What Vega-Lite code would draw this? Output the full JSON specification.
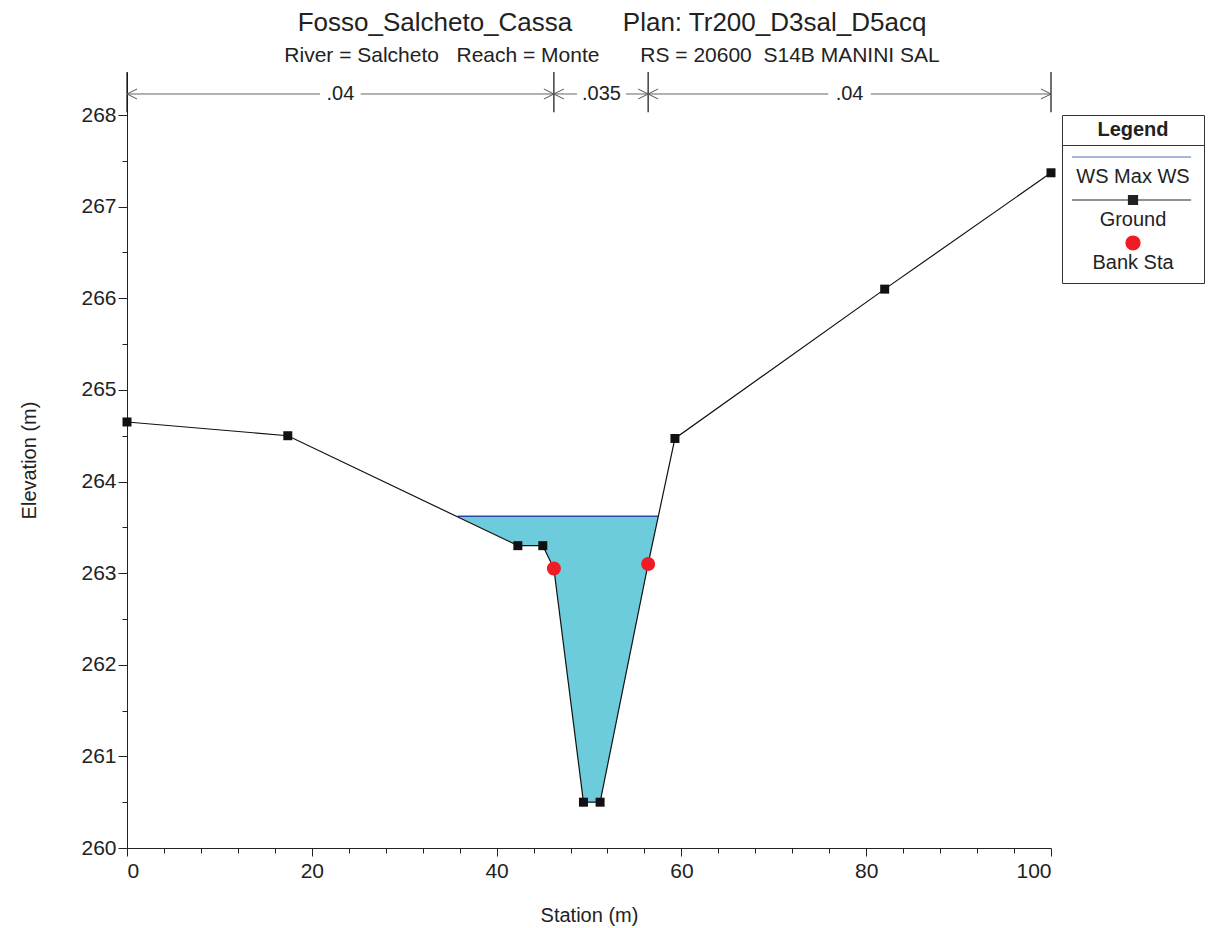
{
  "$schema": "https://vega.github.io/schema/vega-lite/v6.json",
  "width": 924,
  "height": 776,
  "autosize": {"type": "none"},
  "padding": {"left": 127, "top": 72, "right": 163, "bottom": 80},
  "background": "white",
  "config": {
    "view": {"stroke": null},
    "font": "Liberation Sans",
    "axis": {"grid": false, "labelFont": "Liberation Sans", "titleFont": "Liberation Sans", "domainColor": "#222", "tickColor": "#222", "labelColor": "#222", "titleColor": "#222", "titleFontWeight": "normal"},
    "legend": {"labelFont": "Liberation Sans", "titleFont": "Liberation Sans"}
  },
  "title": {
    "text": "Fosso_Salcheto_Cassa\u00a0\u00a0\u00a0\u00a0\u00a0\u00a0\u00a0Plan: Tr200_D3sal_D5acq",
    "subtitle": "River = Salcheto\u00a0\u00a0\u00a0Reach = Monte\u00a0\u00a0\u00a0\u00a0\u00a0\u00a0\u00a0RS = 20600\u00a0\u00a0S14B MANINI SAL",
    "anchor": "middle",
    "frame": "group",
    "dx": 23,
    "fontSize": 26,
    "fontWeight": "normal",
    "subtitleFontSize": 21,
    "color": "#222",
    "subtitleColor": "#222",
    "font": "Liberation Sans",
    "subtitleFont": "Liberation Sans",
    "offset": 5,
    "subtitlePadding": 9
  },
  "datasets": {
    "ground": [
      {"station": 0, "elev": 264.65},
      {"station": 17.4, "elev": 264.5},
      {"station": 42.3, "elev": 263.3},
      {"station": 45.0, "elev": 263.3},
      {"station": 46.2, "elev": 263.05},
      {"station": 49.4, "elev": 260.5},
      {"station": 51.2, "elev": 260.5},
      {"station": 56.4, "elev": 263.1},
      {"station": 59.3, "elev": 264.47},
      {"station": 82.0, "elev": 266.1},
      {"station": 100, "elev": 267.37}
    ],
    "squares": [
      {"station": 0, "elev": 264.65},
      {"station": 17.4, "elev": 264.5},
      {"station": 42.3, "elev": 263.3},
      {"station": 45.0, "elev": 263.3},
      {"station": 49.4, "elev": 260.5},
      {"station": 51.2, "elev": 260.5},
      {"station": 59.3, "elev": 264.47},
      {"station": 82.0, "elev": 266.1},
      {"station": 100, "elev": 267.37}
    ],
    "bank": [
      {"station": 46.2, "elev": 263.05},
      {"station": 56.4, "elev": 263.1}
    ],
    "water": [
      {"station": 35.8, "elev": 263.62, "ws": 263.62},
      {"station": 42.3, "elev": 263.3, "ws": 263.62},
      {"station": 45.0, "elev": 263.3, "ws": 263.62},
      {"station": 46.2, "elev": 263.05, "ws": 263.62},
      {"station": 49.4, "elev": 260.5, "ws": 263.62},
      {"station": 51.2, "elev": 260.5, "ws": 263.62},
      {"station": 56.4, "elev": 263.1, "ws": 263.62},
      {"station": 57.5, "elev": 263.62, "ws": 263.62}
    ],
    "wsline": [
      {"station": 35.8, "elev": 263.62},
      {"station": 57.5, "elev": 263.62}
    ],
    "nvert": [
      {"station": 0},
      {"station": 46.2},
      {"station": 56.4},
      {"station": 100}
    ],
    "nseg": [
      {"s0": 0, "s1": 20.9},
      {"s0": 25.3, "s1": 46.2},
      {"s0": 46.2, "s1": 48.7},
      {"s0": 54.0, "s1": 56.4},
      {"s0": 56.4, "s1": 75.9},
      {"s0": 80.5, "s1": 100}
    ],
    "arrowL": [
      {"station": 0},
      {"station": 46.2},
      {"station": 56.4}
    ],
    "arrowR": [
      {"station": 46.2},
      {"station": 56.4},
      {"station": 100}
    ],
    "nlab": [
      {"station": 23.1, "n": ".04"},
      {"station": 51.35, "n": ".035"},
      {"station": 78.2, "n": ".04"}
    ],
    "leg": [
      {"series": "WS Max WS", "station": null, "elev": null},
      {"series": "Ground", "station": null, "elev": null},
      {"series": "Bank Sta", "station": null, "elev": null}
    ],
    "hdr": [
      {"hdr": "Legend", "station": null, "elev": null}
    ]
  },
  "layer": [
    {
      "data": {"name": "water"},
      "mark": {"type": "area", "color": "#6dccdc", "opacity": 1},
      "encoding": {
        "x": {"field": "station", "type": "quantitative", "scale": {"domain": [0, 100], "nice": false, "zero": false}, "axis": null},
        "y": {"field": "elev", "type": "quantitative", "scale": {"domain": [260, 268.47], "nice": false, "zero": false}, "axis": null},
        "y2": {"field": "ws"}
      }
    },
    {
      "data": {"name": "wsline"},
      "mark": {"type": "line", "color": "#2a48a4", "strokeWidth": 1.5},
      "encoding": {
        "x": {"field": "station", "type": "quantitative", "axis": null},
        "y": {"field": "elev", "type": "quantitative", "axis": null}
      }
    },
    {
      "data": {"name": "ground"},
      "mark": {"type": "line", "color": "#111", "strokeWidth": 1.2},
      "encoding": {
        "x": {"field": "station", "type": "quantitative",
          "axis": {"orient": "bottom", "values": [0, 20, 40, 60, 80, 100], "format": "d", "tickSize": 8, "labelFontSize": 21, "labelPadding": 4, "title": "Station (m)", "titleFontSize": 20, "titlePadding": 24}},
        "y": {"field": "elev", "type": "quantitative",
          "axis": {"orient": "left", "values": [260, 261, 262, 263, 264, 265, 266, 267, 268], "format": "d", "tickSize": 9, "labelFontSize": 21, "labelPadding": 2, "title": "Elevation (m)", "titleFontSize": 20, "titlePadding": 41}}
      }
    },
    {
      "data": {"name": "squares"},
      "mark": {"type": "point", "shape": "square", "filled": true, "color": "#111", "size": 81, "opacity": 1},
      "encoding": {
        "x": {"field": "station", "type": "quantitative",
          "axis": {"orient": "bottom", "values": [4, 8, 12, 16, 24, 28, 32, 36, 44, 48, 52, 56, 64, 68, 72, 76, 84, 88, 92, 96], "tickSize": 5, "labels": false, "domain": false, "title": null}},
        "y": {"field": "elev", "type": "quantitative",
          "axis": {"orient": "left", "values": [260.5, 261.5, 262.5, 263.5, 264.5, 265.5, 266.5, 267.5], "tickSize": 5, "labels": false, "domain": false, "title": null}}
      }
    },
    {
      "data": {"name": "bank"},
      "mark": {"type": "point", "shape": "circle", "filled": true, "color": "#ee1c25", "size": 196, "opacity": 1},
      "encoding": {
        "x": {"field": "station", "type": "quantitative", "axis": null},
        "y": {"field": "elev", "type": "quantitative", "axis": null}
      }
    },
    {
      "data": {"name": "nvert"},
      "mark": {"type": "rule", "color": "#111", "strokeWidth": 1.2},
      "encoding": {
        "x": {"field": "station", "type": "quantitative", "axis": null},
        "y": {"datum": 268.03, "type": "quantitative", "axis": null},
        "y2": {"datum": 268.47}
      }
    },
    {
      "data": {"name": "nseg"},
      "mark": {"type": "rule", "color": "#666", "strokeWidth": 1},
      "encoding": {
        "x": {"field": "s0", "type": "quantitative", "axis": null},
        "x2": {"field": "s1"},
        "y": {"datum": 268.23, "type": "quantitative", "axis": null}
      }
    },
    {
      "data": {"name": "arrowL"},
      "mark": {"type": "point", "shape": "M10,-5L0,0L10,5", "size": 4, "filled": false, "color": "#555", "strokeWidth": 1, "opacity": 1},
      "encoding": {
        "x": {"field": "station", "type": "quantitative", "axis": null},
        "y": {"datum": 268.23, "type": "quantitative", "axis": null}
      }
    },
    {
      "data": {"name": "arrowR"},
      "mark": {"type": "point", "shape": "M-10,-5L0,0L-10,5", "size": 4, "filled": false, "color": "#555", "strokeWidth": 1, "opacity": 1},
      "encoding": {
        "x": {"field": "station", "type": "quantitative", "axis": null},
        "y": {"datum": 268.23, "type": "quantitative", "axis": null}
      }
    },
    {
      "data": {"name": "nlab"},
      "mark": {"type": "text", "fontSize": 20, "color": "#222", "baseline": "middle", "align": "center", "font": "Liberation Sans"},
      "encoding": {
        "x": {"field": "station", "type": "quantitative", "axis": null},
        "y": {"datum": 268.23, "type": "quantitative", "axis": null},
        "text": {"field": "n"}
      }
    },
    {
      "data": {"name": "leg"},
      "mark": {"type": "point", "filled": true, "strokeWidth": 1.2, "size": 2007},
      "encoding": {
        "x": {"field": "station", "type": "quantitative", "axis": null},
        "y": {"field": "elev", "type": "quantitative", "axis": null},
        "fill": {"field": "series", "type": "nominal",
          "scale": {"domain": ["WS Max WS", "Ground", "Bank Sta"], "range": ["#4f6fbf", "#222", "#ee1c25"]},
          "legend": {"orient": "none", "legendX": 935, "legendY": 72, "title": null, "direction": "vertical", "padding": 10, "strokeColor": "#333", "fillColor": "white", "symbolSize": 2007, "symbolStrokeWidth": 1.2, "symbolOpacity": 1, "labelAlign": "center", "labelOffset": 15, "labelFontSize": 20, "labelColor": "#222", "rowPadding": 3, "labelLimit": 300}},
        "stroke": {"field": "series", "type": "nominal",
          "scale": {"domain": ["WS Max WS", "Ground", "Bank Sta"], "range": ["#4f6fbf", "#222", "#ee1c25"]},
          "legend": {"orient": "none", "legendX": 935, "legendY": 72, "title": null, "direction": "vertical", "padding": 10, "strokeColor": "#333", "fillColor": "white", "symbolSize": 2007, "symbolStrokeWidth": 1.2, "symbolOpacity": 1, "labelAlign": "center", "labelOffset": 15, "labelFontSize": 20, "labelColor": "#222", "rowPadding": 3, "labelLimit": 300}},
        "shape": {"field": "series", "type": "nominal",
          "scale": {"domain": ["WS Max WS", "Ground", "Bank Sta"], "range": ["M1.6964,-1.2054M-1.0268,-0.8929H4.29", "M1.6964,-1.2054M-1.0268,-0.8929H4.29M1.4955,-1.0938H1.8973V-0.692H1.4955Z", "M1.6964,-1.2054M1.3839,-0.8929A0.3125,0.3125 0 1,0 2.0089,-0.8929A0.3125,0.3125 0 1,0 1.3839,-0.8929Z"]},
          "legend": {"orient": "none", "legendX": 935, "legendY": 72, "title": null, "direction": "vertical", "padding": 10, "strokeColor": "#333", "fillColor": "white", "symbolSize": 2007, "symbolStrokeWidth": 1.2, "symbolOpacity": 1, "labelAlign": "center", "labelOffset": 15, "labelFontSize": 20, "labelColor": "#222", "rowPadding": 3, "labelLimit": 300}}
      }
    },
    {
      "data": {"name": "hdr"},
      "mark": {"type": "point", "filled": false, "size": 4},
      "encoding": {
        "x": {"field": "station", "type": "quantitative", "axis": null},
        "y": {"field": "elev", "type": "quantitative", "axis": null},
        "strokeDash": {"field": "hdr", "type": "nominal",
          "scale": {"domain": ["Legend"], "range": [[1, 0]]},
          "legend": {"orient": "none", "legendX": 935, "legendY": 43, "title": null, "direction": "vertical", "padding": 5, "strokeColor": "#333", "fillColor": "white", "symbolType": "M-10,0H122", "symbolSize": 4, "symbolOpacity": 0, "labelAlign": "center", "labelOffset": 46, "labelFontSize": 20, "labelFontWeight": "bold", "labelColor": "#222", "labelLimit": 300}}
      }
    }
  ],
  "resolve": {"axis": {"x": "independent", "y": "independent"}}
}
